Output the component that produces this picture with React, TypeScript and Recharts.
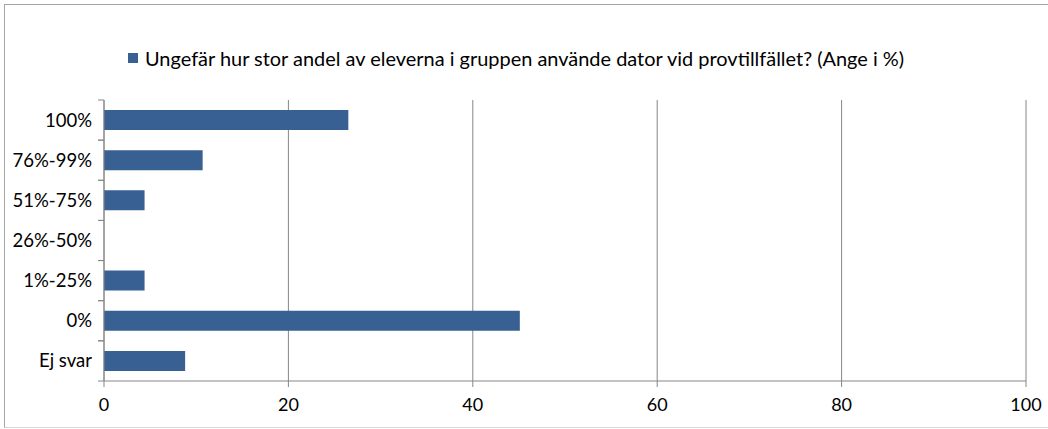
import React from 'react';
import { BarChart, Bar, XAxis, YAxis, CartesianGrid, Legend } from 'recharts';

const categories = ['100%', '76%-99%', '51%-75%', '26%-50%', '1%-25%', '0%', 'Ej svar'];
const values = [26.5, 10.7, 4.4, 0, 4.4, 45.1, 8.8];
const xTicks = [0, 20, 40, 60, 80, 100];
const seriesName = 'Ungefär hur stor andel av eleverna i gruppen använde dator vid provtillfället? (Ange i %)';

const data = categories.map((c, i) => ({ category: c, value: values[i] }));

const W = 1048;
const H = 429;
const M_TOP = 100;
const X_AXIS_H = 48;
const PLOT_H = H - M_TOP - X_AXIS_H;
const BAND = PLOT_H / categories.length;
const FONT = 'Lato, "Open Sans", sans-serif';
const AXIS = '#868686';
const BAR = '#386092';

const YTick = (props: any) => {
  const { x, y, payload } = props;
  return (
    <g>
      <line x1={x + 6} x2={x + 12} y1={y - BAND / 2} y2={y - BAND / 2} stroke={AXIS} />
      <line x1={x + 6} x2={x + 12} y1={y + BAND / 2} y2={y + BAND / 2} stroke={AXIS} />
      <text x={x} y={y} dy="0.35em" textAnchor="end" fill="#000" fontSize={18.5} fontFamily={FONT}>
        {payload.value}
      </text>
    </g>
  );
};

const LegendContent = () => (
  <div style={{ display: 'flex', alignItems: 'center', fontFamily: FONT, fontSize: 19.95, color: '#000', whiteSpace: 'nowrap' }}>
    <span style={{ display: 'inline-block', width: 10, height: 10, background: BAR, marginRight: 7 }} />
    <span>{seriesName}</span>
  </div>
);

export default function App() {
  return (
    <div style={{ position: 'absolute', left: 0, top: 0, width: W, height: H, background: '#fff', overflow: 'hidden' }}>
      <div style={{ position: 'absolute', left: 4, top: 4, width: 1100, height: 422, borderTop: '1px solid #a6a6a6', borderLeft: '1px solid #a6a6a6', borderBottom: '1px solid #d9d9d9' }} />
      <div style={{ position: 'absolute', left: 0, top: 0 }}>
        <BarChart
          width={W}
          height={H}
          data={data}
          layout="vertical"
          margin={{ top: M_TOP, right: 22, bottom: 0, left: 0 }}
          barCategoryGap="25%"
        >
          <CartesianGrid vertical={true} horizontal={false} stroke={AXIS} strokeWidth={1} verticalValues={xTicks} />
          <XAxis
            type="number"
            domain={[0, 100]}
            ticks={xTicks}
            height={X_AXIS_H}
            stroke={AXIS}
            tickSize={6}
            tickMargin={11}
            tick={{ fill: '#000', fontSize: 18, fontFamily: FONT }}
            interval={0}
          />
          <YAxis
            type="category"
            dataKey="category"
            width={104}
            stroke={AXIS}
            tickLine={false}
            tickSize={0}
            tickMargin={12}
            tick={<YTick />}
            interval={0}
          />
          <Legend
            verticalAlign="middle"
            layout="horizontal"
            content={<LegendContent />}
            wrapperStyle={{ top: 46, left: 128, width: 920, height: 24 }}
          />
          <Bar dataKey="value" name={seriesName} fill={BAR} isAnimationActive={false} />
        </BarChart>
      </div>
    </div>
  );
}
